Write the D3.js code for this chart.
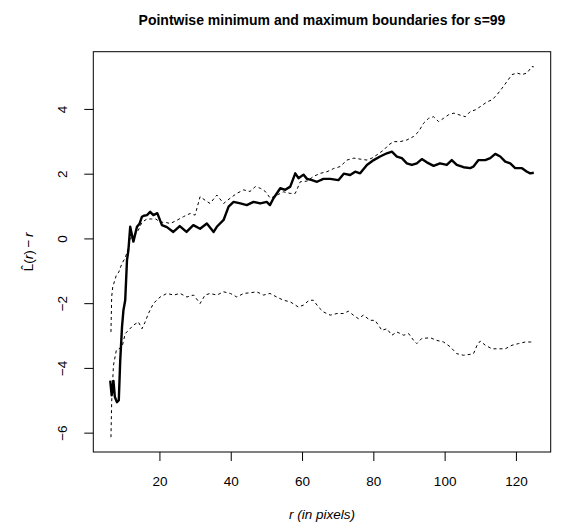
<!DOCTYPE html>
<html>
<head>
<meta charset="utf-8">
<script src="https://cdn.jsdelivr.net/npm/d3@7"></script>
<style>
  html, body { margin: 0; padding: 0; background: #fff; }
  svg { display: block; font-family: "Liberation Sans", Arial, Helvetica, sans-serif; }
</style>
</head>
<body>
<svg id="chart" width="566" height="527"></svg>
<script>
// Observed L-hat(r) - r curve
const rObs = [6.2, 6.6, 7.1, 7.5, 8.1, 8.6, 9.0, 9.5, 9.9, 10.4, 10.9, 11.3, 11.8, 12.7, 13.7, 14.4, 15.1, 15.6, 16.5, 17.4, 18.3, 19.4, 20.7, 22.1, 23.9, 25.7, 27.6, 29.5, 31.4, 33.3, 35.2, 36.1, 38.0, 39.4, 40.8, 42.7, 44.5, 46.4, 48.3, 50.1, 51.0, 52.0, 53.9, 55.3, 56.7, 58.1, 59.0, 60.4, 61.4, 62.8, 64.2, 66.0, 67.9, 70.2, 71.7, 73.5, 74.9, 76.3, 78.2, 80.1, 81.9, 83.8, 85.2, 86.6, 88.0, 89.4, 90.8, 92.2, 93.6, 95.0, 96.9, 98.7, 100.6, 102.0, 103.4, 105.3, 107.2, 108.1, 109.5, 111.4, 112.8, 114.2, 115.6, 117.0, 118.4, 119.8, 121.7, 123.1, 124.0, 125.0];
const obs = [-4.39, -4.85, -4.4, -4.9, -5.06, -5.0, -3.77, -2.74, -2.22, -1.91, -0.67, -0.36, 0.36, -0.1, 0.36, 0.45, 0.67, 0.7, 0.72, 0.82, 0.72, 0.78, 0.41, 0.35, 0.2, 0.38, 0.2, 0.41, 0.3, 0.46, 0.2, 0.36, 0.57, 0.98, 1.13, 1.08, 1.03, 1.13, 1.08, 1.13, 1.03, 1.24, 1.55, 1.5, 1.6, 2.01, 1.86, 1.97, 1.84, 1.8, 1.75, 1.84, 1.84, 1.8, 2.0, 1.96, 2.06, 2.01, 2.27, 2.42, 2.53, 2.63, 2.68, 2.53, 2.48, 2.32, 2.27, 2.32, 2.45, 2.35, 2.24, 2.32, 2.27, 2.42, 2.27, 2.2, 2.17, 2.22, 2.42, 2.42, 2.48, 2.61, 2.53, 2.37, 2.32, 2.17, 2.17, 2.06, 2.01, 2.03];

// Pointwise maximum of the simulated envelopes
const rHi = [6.4, 6.6, 6.9, 7.9, 8.6, 9.5, 10.4, 11.3, 11.8, 12.7, 14.1, 15.1, 16.5, 17.8, 19.0, 20.2, 21.6, 23.0, 24.9, 26.7, 28.6, 30.0, 31.4, 32.8, 34.2, 36.1, 38.0, 39.8, 41.7, 43.6, 45.4, 46.9, 48.3, 49.7, 51.1, 53.0, 54.8, 56.7, 58.1, 59.5, 61.4, 63.3, 65.1, 67.0, 68.9, 70.7, 72.6, 74.5, 76.3, 78.2, 79.6, 81.0, 82.9, 84.3, 85.7, 87.5, 89.4, 91.3, 92.7, 94.1, 95.5, 96.9, 98.3, 99.7, 101.1, 102.6, 104.0, 105.8, 107.2, 108.6, 110.0, 111.9, 113.3, 114.7, 116.1, 117.5, 118.9, 120.3, 121.7, 123.1, 124.5, 125.0];
const hi = [-2.89, -1.81, -1.5, -1.14, -1.04, -0.77, -0.6, -0.3, 0.0, 0.05, 0.26, 0.5, 0.6, 0.6, 0.6, 0.5, 0.5, 0.46, 0.56, 0.67, 0.77, 0.72, 1.29, 1.18, 1.08, 1.34, 1.08, 1.24, 1.39, 1.5, 1.45, 1.6, 1.55, 1.45, 1.24, 1.34, 1.44, 1.39, 1.39, 1.75, 1.77, 1.92, 2.01, 2.06, 2.16, 2.22, 2.42, 2.48, 2.45, 2.42, 2.48, 2.58, 2.73, 2.89, 2.99, 2.99, 3.04, 3.15, 3.3, 3.56, 3.71, 3.76, 3.61, 3.71, 3.82, 3.87, 3.82, 3.76, 3.92, 3.97, 4.07, 4.22, 4.28, 4.44, 4.64, 4.85, 5.06, 5.11, 5.06, 5.11, 5.31, 5.3];

// Pointwise minimum of the simulated envelopes
const rLo = [6.4, 6.6, 7.1, 7.9, 8.6, 9.5, 10.4, 11.3, 12.7, 14.1, 15.1, 16.0, 16.9, 18.3, 20.2, 22.1, 24.0, 25.8, 27.7, 29.6, 31.4, 32.8, 34.2, 36.1, 38.0, 39.9, 41.7, 43.6, 45.4, 47.3, 49.2, 51.0, 52.9, 54.8, 56.7, 59.0, 60.4, 62.0, 63.2, 64.6, 66.0, 67.9, 69.8, 71.6, 73.0, 74.4, 75.8, 77.2, 79.1, 80.5, 82.4, 83.8, 85.2, 86.6, 88.5, 89.9, 91.3, 92.2, 93.6, 96.0, 97.8, 99.7, 101.6, 103.4, 105.3, 107.2, 108.1, 109.1, 110.0, 111.4, 113.3, 115.1, 117.0, 118.9, 120.7, 122.6, 124.0, 125.0];
const lo = [-6.14, -5.06, -3.92, -3.46, -3.41, -3.36, -2.94, -2.84, -2.68, -2.58, -2.79, -2.58, -2.32, -2.01, -1.81, -1.7, -1.75, -1.7, -1.81, -1.75, -2.01, -1.75, -1.7, -1.75, -1.65, -1.7, -1.81, -1.7, -1.68, -1.65, -1.75, -1.7, -1.81, -1.91, -1.96, -2.12, -2.06, -1.91, -1.91, -2.12, -2.27, -2.37, -2.32, -2.32, -2.25, -2.37, -2.48, -2.37, -2.53, -2.53, -2.84, -2.79, -2.99, -2.89, -2.99, -2.94, -3.15, -3.25, -3.09, -3.07, -3.15, -3.2, -3.35, -3.56, -3.61, -3.58, -3.56, -3.3, -3.17, -3.3, -3.41, -3.41, -3.41, -3.3, -3.25, -3.2, -3.2, -3.2];

const xTicks = [20, 40, 60, 80, 100, 120];
const yTicks = [-6, -4, -2, 0, 2, 4];

const W = 566, H = 527;
const margin = { top: 51.7, right: 15.3, bottom: 75, left: 93.3 };
const svg = d3.select("#chart");

// Axis ranges padded by 4% on each side
function padded(values) {
  const [a, b] = d3.extent(values);
  const p = (b - a) * 0.04;
  return [a - p, b + p];
}
const x = d3.scaleLinear()
  .domain(padded(rObs.concat(rHi, rLo)))
  .range([margin.left, W - margin.right]);
const y = d3.scaleLinear()
  .domain(padded(obs.concat(hi, lo)))
  .range([H - margin.bottom, margin.top]);

const line = d3.line().x(d => x(d[0])).y(d => y(d[1]));
const zip = (a, b) => a.map((v, i) => [v, b[i]]);

const plot = svg.append("g");
plot.append("path").datum(zip(rHi, hi))
  .attr("d", line).attr("fill", "none").attr("stroke", "#000")
  .attr("stroke-width", 1).attr("stroke-dasharray", "3,3");
plot.append("path").datum(zip(rLo, lo))
  .attr("d", line).attr("fill", "none").attr("stroke", "#000")
  .attr("stroke-width", 1).attr("stroke-dasharray", "3,3");
plot.append("path").datum(zip(rObs, obs))
  .attr("d", line).attr("fill", "none").attr("stroke", "#000")
  .attr("stroke-width", 2.4).attr("stroke-linejoin", "round");

// Frame around the plotting region
svg.append("rect")
  .attr("x", margin.left).attr("y", margin.top)
  .attr("width", W - margin.left - margin.right)
  .attr("height", H - margin.top - margin.bottom)
  .attr("fill", "none").attr("stroke", "#000").attr("stroke-width", 1);

// Bottom axis
const xAxis = svg.append("g")
  .attr("transform", `translate(0,${H - margin.bottom})`)
  .call(d3.axisBottom(x).tickValues(xTicks).tickSize(9).tickPadding(15).tickSizeOuter(0));
xAxis.select(".domain").remove();
xAxis.selectAll("text").attr("font-size", 13.5).attr("fill", "#000")
  .attr("font-family", "Liberation Sans, Arial, sans-serif");

// Left axis with labels running along the axis
const yAxis = svg.append("g")
  .attr("transform", `translate(${margin.left},0)`)
  .call(d3.axisLeft(y).tickValues(yTicks).tickSize(9).tickSizeOuter(0)
    .tickFormat(d => d < 0 ? "\u2212" + Math.abs(d) : String(d)));
yAxis.select(".domain").remove();
yAxis.selectAll("text")
  .attr("font-size", 13.5).attr("fill", "#000")
  .attr("font-family", "Liberation Sans, Arial, sans-serif")
  .attr("x", null).attr("dy", null)
  .attr("text-anchor", "middle")
  .attr("transform", "translate(-26,0) rotate(-90)");

// Title
svg.append("text")
  .attr("x", (margin.left + W - margin.right) / 2).attr("y", 25)
  .attr("text-anchor", "middle").attr("font-weight", "bold").attr("font-size", 14)
  .text("Pointwise minimum and maximum boundaries for s=99");

// Axis titles
svg.append("text")
  .attr("x", (margin.left + W - margin.right) / 2).attr("y", 519)
  .attr("text-anchor", "middle").attr("font-style", "italic").attr("font-size", 13.5)
  .text("r (in pixels)");

const yl = svg.append("text")
  .attr("transform", `translate(33,${(margin.top + H - margin.bottom) / 2}) rotate(-90)`)
  .attr("text-anchor", "middle").attr("font-size", 13.5);
yl.append("tspan").text("L\u0302");
yl.append("tspan").text("(");
yl.append("tspan").attr("font-style", "italic").text("r");
yl.append("tspan").text(")\u2009\u2212\u2009");
yl.append("tspan").attr("font-style", "italic").text("r");
</script>
</body>
</html>
